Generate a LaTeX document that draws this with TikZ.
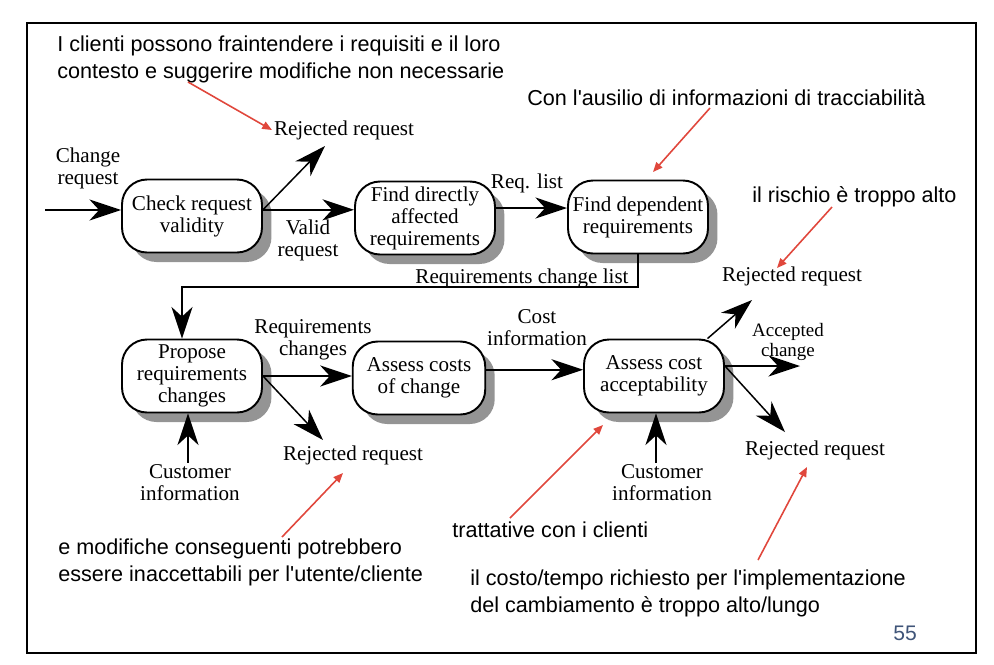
\documentclass[tikz,border=0pt]{standalone}
\usepackage{fontspec}
\setmainfont{Liberation Serif}
\setsansfont{Liberation Sans}
\usepackage{tikz}
\usetikzlibrary{arrows.meta, positioning, shadows}
\definecolor{noteRed}{HTML}{E0473C}
\definecolor{pageBlue}{HTML}{3F5478}
\newcommand{\procfont}{\fontsize{12}{12.5}\selectfont}
\newcommand{\notefont}{\sffamily\fontsize{12.3}{15.3}\selectfont}

\begin{document}
\begin{tikzpicture}[x=0.02cm, y=-0.02cm, >=Stealth,
    procbox/.style={draw, line width=1.1pt, fill=white, rounded corners=0.5cm,
        minimum width=2.8cm, minimum height=1.46cm, align=center, inner sep=1pt,
        font=\procfont,
        drop shadow={shadow xshift=0.19cm, shadow yshift=-0.19cm, fill=black!42, opacity=1}},
    lbl/.style={font=\procfont, align=center, inner sep=1pt},
    flow/.style={-{Stealth[length=18pt, width=12pt, inset=5.5pt]}, line width=0.85pt},
    note/.style={font=\notefont, align=left, anchor=west, inner sep=0pt},
    notearrow/.style={-{Triangle[length=5.5pt, width=4.5pt]}, noteRed, line width=0.9pt}]

    \useasboundingbox (0,0) rectangle (994,664);
    % Slide frame
    \draw[line width=1.1pt] (27,23) rectangle (976,653);

    % Process boxes
    \node[procbox] (check)   at (192,216) {Check request\\validity};
    \node[procbox] (direct)  at (425,218) {Find directly\\affected\\requirements};
    \node[procbox] (depend)  at (638,217) {Find dependent\\requirements};
    \node[procbox] (propose) at (192,376) {Propose\\requirements\\changes};
    \node[procbox, minimum width=2.65cm] (costs) at (419,378) {Assess costs\\of change};
    \node[procbox] (accept)  at (654,376) {Assess cost\\acceptability};

    % Flow labels
    \node[lbl] (chreq)  at (88,168)  {Change\\request};
    \node[lbl] (rej1)   at (344,130) {Rejected request};
    \node[lbl] (valid)  at (308,240) {Valid\\request};
    \node[lbl] (reqlst) at (527,183) {Req. list};
    \node[lbl] (chlist) at (522,278) {Requirements change list};
    \node[lbl] (rqchg)  at (313,340) {Requirements\\changes};
    \node[lbl] (rej4)   at (353,455) {Rejected request};
    \node[lbl] (cust4)  at (190,483) {Customer\\information};
    \node[lbl] (costin) at (537,328) {Cost\\information};
    \node[lbl] (rej6a)  at (792,276) {Rejected request};
    \node[lbl, font=\fontsize{10.8}{11.5}\selectfont] (accchg) at (788,342) {Accepted\\change};
    \node[lbl] (rej6b)  at (815,450) {Rejected request};
    \node[lbl] (cust6)  at (662,483) {Customer\\information};

    % Free ends
    \coordinate (cin)   at (45,210);
    \coordinate (r1tip) at (325,146);
    \coordinate (bend)  at (182,287);
    \coordinate (r4tip) at (323,440);
    \coordinate (r6tip) at (752,300);
    \coordinate (acctip) at (800,366);
    \coordinate (r6btip) at (785,432);

    % Connectors
    \draw[flow] (cin) -- (cin -| check.west);
    \draw[flow] (check.5) -- (r1tip);
    \draw[flow] (check.5) -- (check.5 -| direct.west);
    \draw[flow] (direct.8) -- (direct.8 -| depend.west);
    \draw[flow] (depend.south) |- (bend) -- (bend |- propose.north);
    \draw[flow] (propose.east) -- (propose.east -| costs.west);
    \draw[flow] (propose.east) -- (r4tip);
    \draw[flow] (cust4.north -| 188,0) -- (propose.south -| 188,0);
    \draw[flow] (costs.7) -- (costs.7 -| accept.west);
    \draw[flow] (accept.35) -- (r6tip);
    \draw[flow] (accept.east |- acctip) -- (acctip);
    \draw[flow] (accept.east |- acctip) -- (r6btip);
    \draw[flow] (cust6.north -| 656,0) -- (accept.south -| 656,0);

    % Annotations
    \node[note] (note1) at (57,59)  {I clienti possono fraintendere i requisiti e il loro\\contesto e suggerire modifiche non necessarie};
    \node[note] (note2) at (527,98) {Con l\textquotesingle ausilio di informazioni di tracciabilità};
    \node[note] (note3) at (752,197) {il rischio è troppo alto};
    \node[note] (note4) at (58,562) {e modifiche conseguenti potrebbero\\essere inaccettabili per l\textquotesingle utente/cliente};
    \node[note] (note5) at (452,530) {trattative con i clienti};
    \node[note] (note6) at (470,593) {il costo/tempo richiesto per l\textquotesingle implementazione\\del cambiamento è troppo alto/lungo};
    \node[font=\sffamily\fontsize{12}{14}\selectfont, text=pageBlue] (page) at (905,633) {55};

    \coordinate (a1) at (188,82);
    \coordinate (a2) at (710,108);  \coordinate (b2) at (653,172);
    \coordinate (a3) at (832,207);  \coordinate (b3) at (777,268);
    \coordinate (a4) at (282,537);  \coordinate (b4) at (343,473);
    \coordinate (a5) at (510,518);  \coordinate (b5) at (603,425);
    \coordinate (a6) at (758,560);  \coordinate (b6) at (807,467);

    \draw[notearrow] (a1) -- (rej1.west);
    \draw[notearrow] (a2) -- (b2);
    \draw[notearrow] (a3) -- (b3);
    \draw[notearrow] (a4) -- (b4);
    \draw[notearrow] (a5) -- (b5);
    \draw[notearrow] (a6) -- (b6);

\end{tikzpicture}
\end{document}
